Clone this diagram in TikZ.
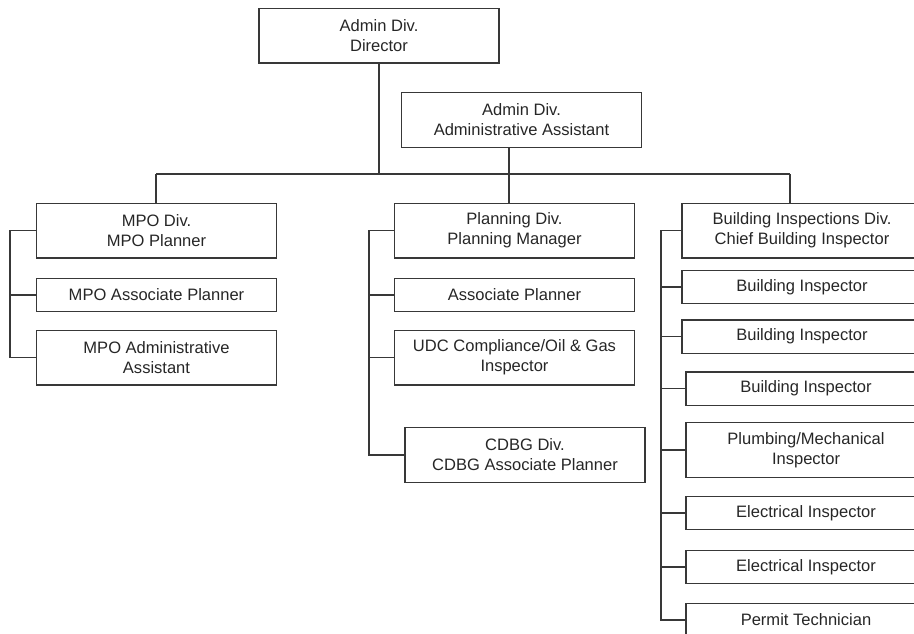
\documentclass[tikz,border=0pt]{standalone}
\usepackage{fontspec}
\setmainfont{Liberation Sans}
\usepackage{tikz}
\usepackage{xcolor}
\definecolor{linegray}{gray}{0.22}
\definecolor{textgray}{gray}{0.15}

\begin{document}
\begin{tikzpicture}[x=0.75pt,y=-0.75pt]
\tikzset{
    tall/.style={%
        draw=linegray, line width=1pt,
        rectangle,
        align=center,
        text=textgray,
        font=\fontsize{12.4pt}{15pt}\selectfont,
        inner sep=0pt,
        minimum height=41pt,
        minimum width=180pt
        },
    flat/.style={%
        tall,
        minimum height=25pt
        },
    wire/.style={draw=linegray, line width=1pt},
}
\useasboundingbox (0,0) rectangle (914,633);
\clip (0,0) rectangle (914,633);
%%%ADMIN
\node[tall] (dir) at (379,35.5) {Admin Div.\\Director};
\node[tall] (aa)  at (521.5,120) {Admin Div.\\Administrative Assistant};
%%%MPO
\node[tall] (mpo)      at (156.5,230.5) {MPO Div.\\MPO Planner};
\node[flat] (mpoassoc) at (156.5,295) {MPO Associate Planner};
\node[tall] (mpoadmin) at (156.5,357.5) {MPO Administrative\\Assistant};
%%%PLANNING
\node[tall] (plan)   at (514.5,230.5) {Planning Div.\\Planning Manager};
\node[flat] (assoc)  at (514.5,295) {Associate Planner};
\node[tall] (udc)    at (514.5,357.5) {UDC Compliance/Oil \& Gas\\Inspector};
\node[tall] (cdbg)   at (525,455) {CDBG Div.\\CDBG Associate Planner};
%%%BUILDING
\node[tall] (bldg)   at (802,230.5) {Building Inspections Div.\\Chief Building Inspector};
\node[flat] (bi1)    at (802,287) {Building Inspector};
\node[flat] (bi2)    at (802,336.5) {Building Inspector};
\node[flat] (bi3)    at (806,388.5) {Building Inspector};
\node[tall] (plumb)  at (806,450) {Plumbing/Mechanical\\Inspector};
\node[flat] (ei1)    at (806,513) {Electrical Inspector};
\node[flat] (ei2)    at (806,567) {Electrical Inspector};
\node[flat] (permit) at (806,620) {Permit Technician};
%%%BUS
\coordinate (busL) at (156,174);
\coordinate (busM) at (509,174);
\coordinate (busR) at (790,174);
\draw[wire] (busL) -- (busR);
\draw[wire] (dir.south) -- (dir.south |- busL);
\draw[wire] (busM |- aa.south) -- (busM |- plan.north);
\draw[wire] (busL) -- (busL |- mpo.north);
\draw[wire] (busR) -- (busR |- bldg.north);
%%%SPINES
\coordinate (mpospine)  at (10,0);
\coordinate (planspine) at (369,0);
\coordinate (bldgspine) at (661,0);
\draw[wire] (mpo.west) -- (mpo.west -| mpospine) |- (mpoadmin.west);
\draw[wire] (mpoassoc.west) -- (mpoassoc.west -| mpospine);
\draw[wire] (plan.west) -- (plan.west -| planspine) |- (cdbg.west);
\foreach \n in {assoc,udc}
    \draw[wire] (\n.west) -- (\n.west -| planspine);
\draw[wire] (bldg.west) -- (bldg.west -| bldgspine) |- (permit.west);
\foreach \n in {bi1,bi2,bi3,plumb,ei1,ei2}
    \draw[wire] (\n.west) -- (\n.west -| bldgspine);
\end{tikzpicture}
\end{document}
